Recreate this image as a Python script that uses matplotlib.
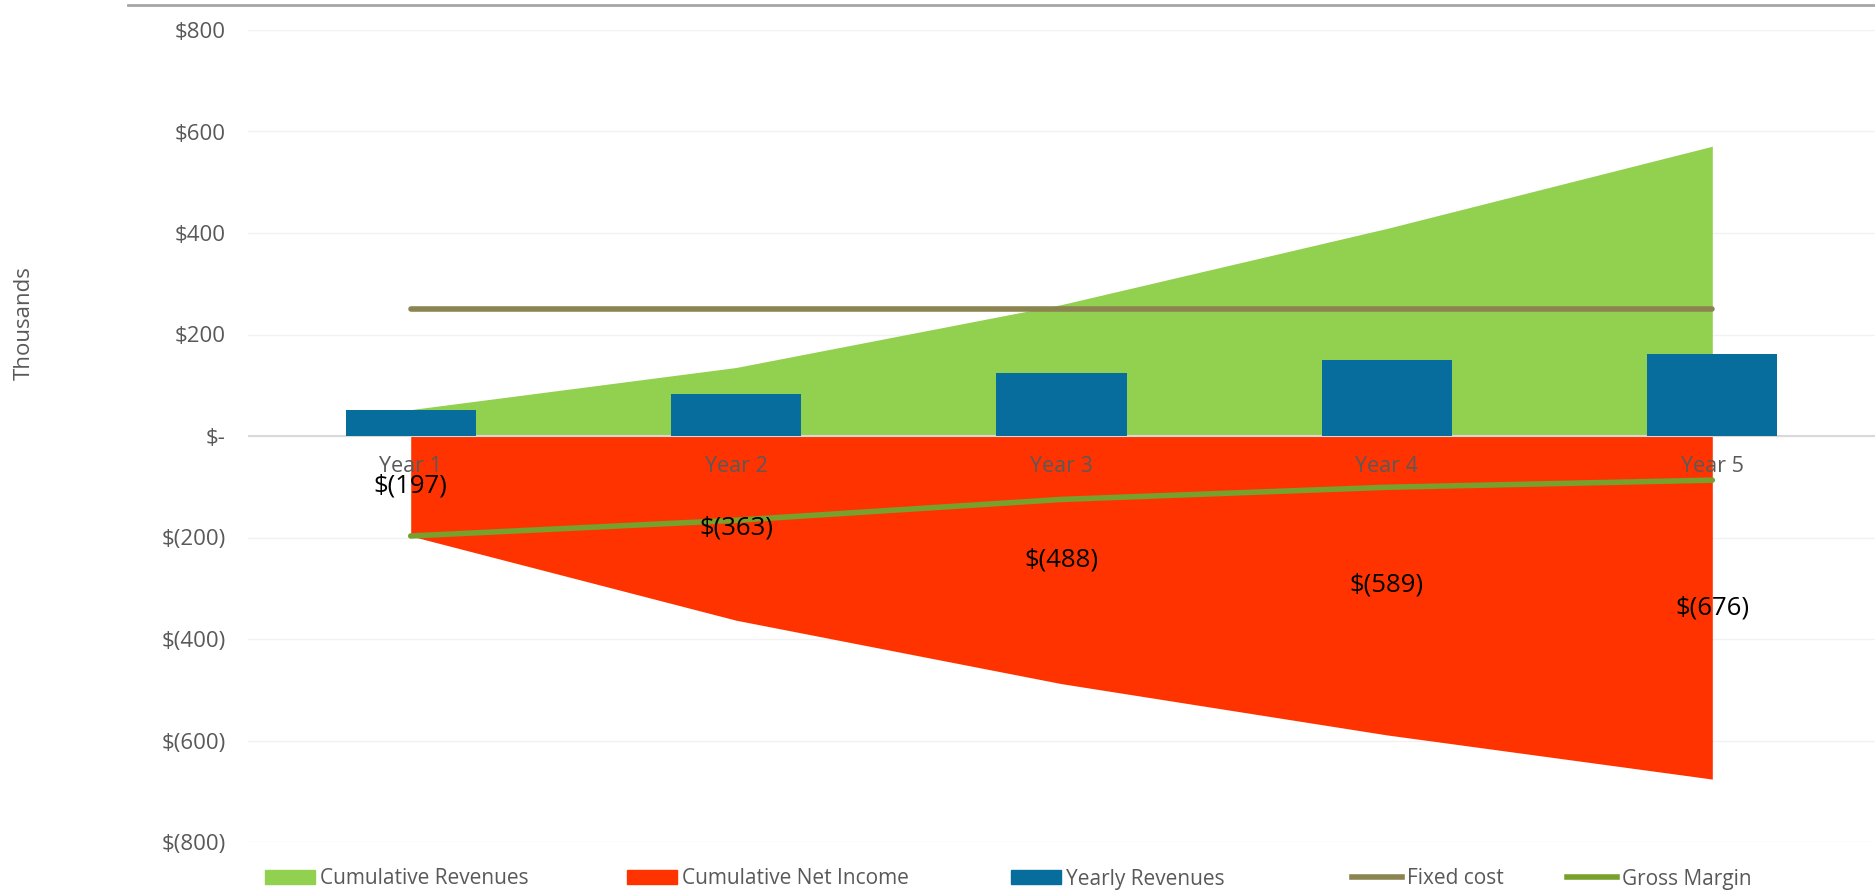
import numpy as np
import matplotlib.pyplot as plt
from matplotlib.lines import Line2D
from matplotlib.patches import Patch

years = ['Year 1', 'Year 2', 'Year 3', 'Year 4', 'Year 5']
yearly_rev = [52, 83, 124, 150, 162]
cum_rev = [52, 135, 259, 409, 571]
cum_net = [-197, -363, -488, -589, -676]
fixed_cost = [250, 250, 250, 250, 250]
gross_margin = [-197, -166, -125, -101, -87]
net_labels = ['$(197)', '$(363)', '$(488)', '$(589)', '$(676)']

plt.rcParams['font.family'] = ['Open Sans', 'DejaVu Sans']
gray = '#595959'

fig = plt.figure(figsize=(18.75, 8.93), dpi=100)
ax = fig.add_axes([248 / 1875, 1 - 842 / 893, 1 - 248 / 1875, (842 - 30) / 893])

x = np.arange(len(years))
ax.fill_between(x, 0, cum_rev, color='#92d050', lw=0, zorder=2)
ax.fill_between(x, 0, cum_net, color='#ff3300', lw=0, zorder=2)
ax.bar(x, yearly_rev, width=0.4, color='#066d9d', zorder=3)
ax.plot(x, fixed_cost, color='#8b8350', lw=4, solid_capstyle='round', zorder=4)
ax.plot(x, gross_margin, color='#77a02c', lw=4, solid_capstyle='round', zorder=4)

for xi, v, lab in zip(x, cum_net, net_labels):
    ax.text(xi, v / 2, lab, ha='center', va='center', fontsize=18.5,
            color='black', zorder=6)

ax.set_xlim(-0.5, 4.5)
ax.set_ylim(-800, 800)
ax.set_yticks(range(-800, 801, 200))
ax.set_yticklabels(['$(800)', '$(600)', '$(400)', '$(200)', '$-',
                    '$200', '$400', '$600', '$800'])
ax.set_xticks([])
for xi, yr in zip(x, years):
    ax.text(xi, -60, yr, ha='center', va='center', fontsize=15.5, color=gray, zorder=5)

ax.grid(axis='y', color='#f2f2f2', lw=1, zorder=0)
ax.axhline(0, color='#d9d9d9', lw=1.5, zorder=2.5)
for s in ax.spines.values():
    s.set_visible(False)
ax.tick_params(axis='y', length=0, labelsize=16, labelcolor=gray, pad=16)
fig.text(24 / 1875, 1 - 323 / 893, 'Thousands', rotation=90, ha='center', va='center',
         fontsize=16, color=gray)

# top border line
fig.add_artist(Line2D([128 / 1875, 1], [1 - 5 / 893, 1 - 5 / 893],
                      color='#a6a6a6', lw=2))

items = [
    (Patch(color='#92d050'), 'Cumulative Revenues', 265),
    (Patch(color='#ff3300'), 'Cumulative Net Income', 627),
    (Patch(color='#066d9d'), 'Yearly Revenues', 1011),
    (Line2D([], [], color='#8b8350', lw=4), 'Fixed cost', 1352),
    (Line2D([], [], color='#77a02c', lw=4), 'Gross Margin', 1567),
]
for h, lab, px in items:
    fig.legend([h], [lab], loc='center left', bbox_to_anchor=(px / 1875, 1 - 879 / 893),
               frameon=False, fontsize=15, labelcolor=gray, handlelength=2.4,
               handleheight=0.65, handletextpad=0.25, borderpad=0, borderaxespad=0)

fig.savefig('out.png', dpi=100)
